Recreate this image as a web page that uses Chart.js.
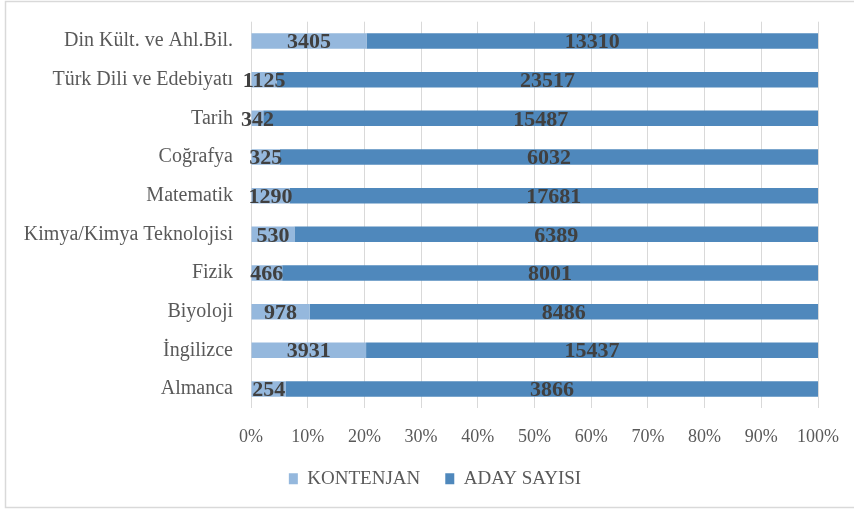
<!DOCTYPE html>
<html>
<head>
<meta charset="utf-8">
<script src="https://cdn.jsdelivr.net/npm/chart.js@4/dist/chart.umd.min.js"></script>
<style>
  html, body { margin: 0; padding: 0; background: #ffffff; }
  #wrap { width: 854px; height: 510px; position: relative; }
</style>
</head>
<body>
<div id="wrap"><canvas id="c" width="854" height="510"></canvas></div>
<script>
const categories = ["Din Kült. ve Ahl.Bil.", "Türk Dili ve Edebiyatı", "Tarih", "Coğrafya", "Matematik", "Kimya/Kimya Teknolojisi", "Fizik", "Biyoloji", "İngilizce", "Almanca"];
const kontenjan = [3405, 1125, 342, 325, 1290, 530, 466, 978, 3931, 254];
const adaySayisi = [13310, 23517, 15487, 6032, 17681, 6389, 8001, 8486, 15437, 3866];
const seriesNames = ["KONTENJAN", "ADAY SAYISI"];
const xTickValues = [0, 10, 20, 30, 40, 50, 60, 70, 80, 90, 100];

const totals = kontenjan.map((k, i) => k + adaySayisi[i]);
const kontenjanPct = kontenjan.map((k, i) => k / totals[i] * 100);
const adayPct = adaySayisi.map((a, i) => a / totals[i] * 100);
const rawValues = [kontenjan, adaySayisi];

const SERIF = "'Liberation Serif', 'DejaVu Serif', serif";

function zeroPad(scale) {
  scale.paddingTop = 0; scale.paddingBottom = 0;
  scale.paddingLeft = 0; scale.paddingRight = 0;
}

const framePlugin = {
  id: 'frame',
  beforeDraw(chart) {
    const ctx = chart.ctx;
    ctx.save();
    ctx.fillStyle = '#ffffff';
    ctx.fillRect(0, 0, chart.width, chart.height);
    ctx.strokeStyle = '#d9d9d9';
    ctx.lineWidth = 1.5;
    ctx.strokeRect(5.5, 1.5, 900, 506);
    ctx.restore();
  }
};

const labelPlugin = {
  id: 'valueLabels',
  afterDatasetsDraw(chart) {
    const ctx = chart.ctx;
    ctx.save();
    ctx.font = "bold 22px " + SERIF;
    ctx.fillStyle = '#404040';
    ctx.textAlign = 'center';
    ctx.textBaseline = 'middle';
    chart.data.datasets.forEach((ds, di) => {
      const meta = chart.getDatasetMeta(di);
      meta.data.forEach((el, i) => {
        const cx = (el.x + el.base) / 2;
        ctx.fillText(String(rawValues[di][i]), cx, el.y + 1.5);
      });
    });
    ctx.restore();
  }
};

new Chart(document.getElementById('c'), {
  type: 'bar',
  data: {
    labels: categories,
    datasets: [
      { label: seriesNames[0], data: kontenjanPct, backgroundColor: '#95b8dd', borderWidth: 0 },
      { label: seriesNames[1], data: adayPct, backgroundColor: '#4f88bc', borderWidth: 0 }
    ]
  },
  options: {
    indexAxis: 'y',
    responsive: false,
    animation: false,
    devicePixelRatio: 1,
    categoryPercentage: 0.4,
    barPercentage: 1.0,
    layout: { padding: { top: 21.7, left: 16, right: 0, bottom: 11.7 } },
    scales: {
      x: {
        stacked: true,
        min: 0,
        max: 100,
        afterBuildTicks(scale) { scale.ticks = xTickValues.map(v => ({ value: v })); },
        ticks: {
          callback: v => v + '%',
          font: { family: SERIF, size: 18 },
          color: '#595959',
          padding: 18,
          maxRotation: 0,
          autoSkip: false
        },
        grid: { color: '#d9d9d9', lineWidth: 1, drawTicks: false },
        border: { display: false },
        afterFit(scale) { zeroPad(scale); scale.height = 36; }
      },
      y: {
        stacked: true,
        ticks: {
          font: { family: SERIF, size: 20 },
          color: '#595959',
          padding: 18,
          autoSkip: false
        },
        grid: { display: false, drawTicks: false },
        border: { display: false },
        afterFit(scale) { zeroPad(scale); scale.width = 235; }
      },
      pad: {
        type: 'linear',
        position: 'right',
        display: true,
        ticks: { display: false },
        grid: { display: false, drawTicks: false },
        border: { display: false },
        afterFit(scale) { zeroPad(scale); scale.width = 36; }
      }
    },
    plugins: {
      legend: {
        position: 'bottom',
        labels: {
          font: { family: SERIF, size: 19 },
          color: '#595959',
          boxWidth: 9,
          boxHeight: 11,
          padding: 25
        }
      },
      tooltip: { enabled: false }
    }
  },
  plugins: [framePlugin, labelPlugin]
});
</script>
</body>
</html>
